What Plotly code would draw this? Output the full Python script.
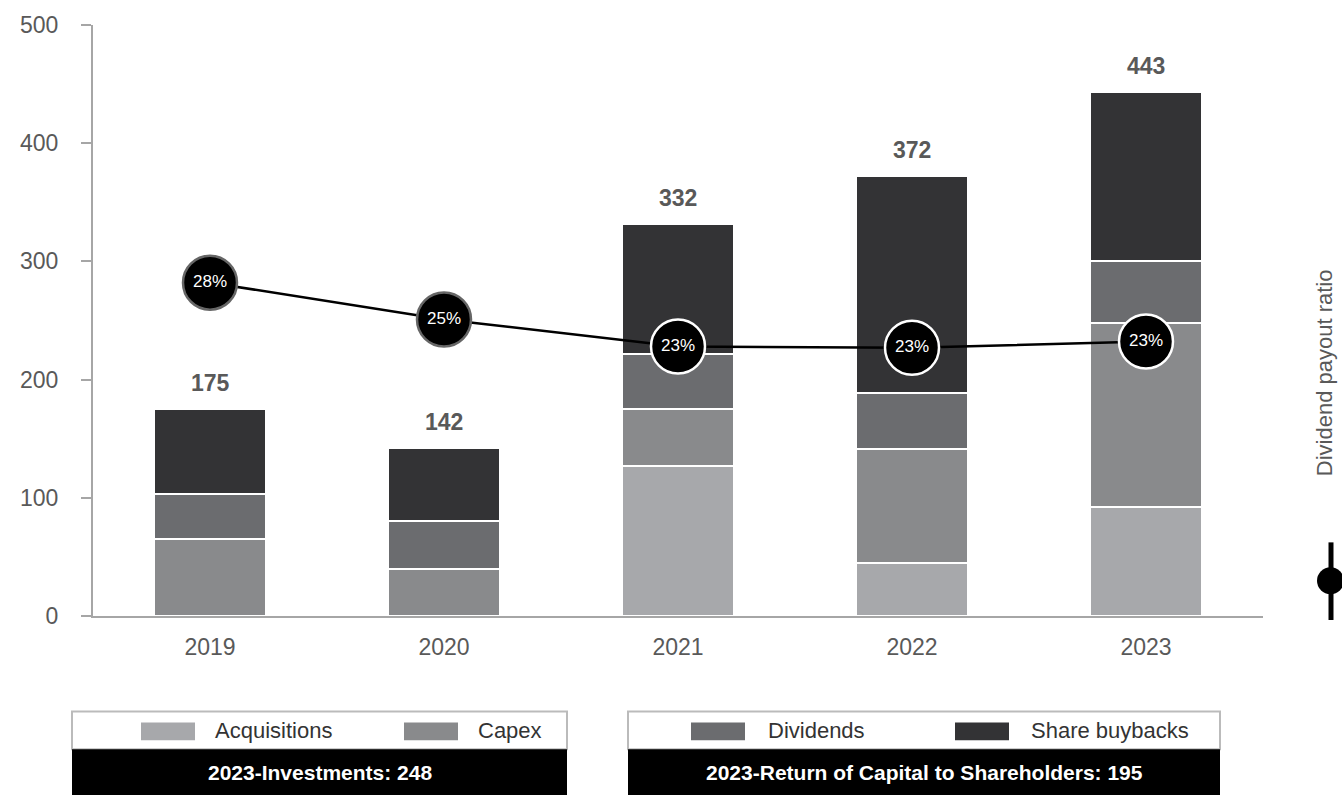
import plotly.graph_objects as go

years = ["2019", "2020", "2021", "2022", "2023"]
acquisitions = [0, 0, 127, 45, 92]
capex = [65, 40, 48, 96, 156]
dividends = [38, 40, 47, 48, 52]
buybacks = [72, 62, 110, 183, 143]
totals = [175, 142, 332, 372, 443]
payout = [28, 25, 22.8, 22.7, 23.2]
payout_labels = ["28%", "25%", "23%", "23%", "23%"]
y_ticks = [0, 100, 200, 300, 400, 500]

series = [
    ("Acquisitions", acquisitions, "#A7A8AB"),
    ("Capex", capex, "#898A8C"),
    ("Dividends", dividends, "#6B6C6F"),
    ("Share buybacks", buybacks, "#333335"),
]

xpos = list(range(len(years)))

W, H = 1342, 795
L, R, T, B = 93, 1263, 22, 616
FONT = "Arial, Liberation Sans, sans-serif"


def px(x):
    return (x - L) / (R - L)


def py(y):
    return (B - y) / (B - T)


fig = go.Figure()
for name, vals, col in series:
    fig.add_trace(go.Bar(
        x=xpos, y=vals, name=name, width=0.475,
        marker=dict(color=col, line=dict(color="white", width=2)),
        showlegend=False, hoverinfo="skip"))

fig.add_trace(go.Scatter(
    x=xpos, y=payout, yaxis="y2", mode="lines+markers+text",
    text=payout_labels, textposition="middle center",
    textfont=dict(color="white", size=17, family=FONT),
    line=dict(color="black", width=2.5),
    marker=dict(size=54, color="black",
                line=dict(color=["#666666", "#666666", "white", "white", "white"], width=2.5)),
    showlegend=False, hoverinfo="skip"))

annots = []
for xi, t in zip(xpos, totals):
    annots.append(dict(x=xi, y=t, xref="x", yref="y", text="<b>%d</b>" % t, showarrow=False, yanchor="bottom",
                       yshift=11, font=dict(size=23, color="#595959", family=FONT)))

shapes = []
boxes = [
    (72, 567, "2023-Investments: 248", [("Acquisitions", "#A7A8AB", 141, 213), ("Capex", "#898A8C", 404, 476)]),
    (628, 1220, "2023-Return of Capital to Shareholders: 195",
     [("Dividends", "#6B6C6F", 691, 766), ("Share buybacks", "#333335", 955, 1029)]),
]
for x0, x1, title, items in boxes:
    shapes.append(dict(type="rect", xref="paper", yref="paper", x0=px(x0), x1=px(x1), y0=py(750), y1=py(712),
                       fillcolor="white", line=dict(color="#BBBBBB", width=2), layer="above"))
    shapes.append(dict(type="rect", xref="paper", yref="paper", x0=px(x0), x1=px(x1), y0=py(800), y1=py(750),
                       fillcolor="black", line=dict(color="black", width=0), layer="above"))
    annots.append(dict(xref="paper", yref="paper", x=px((x0 + x1) / 2), y=py(773), text="<b>%s</b>" % title,
                       showarrow=False, xanchor="center", yanchor="middle",
                       font=dict(size=21, color="white", family=FONT)))
    for name, col, sx, tx in items:
        shapes.append(dict(type="rect", xref="paper", yref="paper", x0=px(sx), x1=px(sx + 54), y0=py(741), y1=py(723),
                           fillcolor=col, line=dict(width=0), layer="above"))
        annots.append(dict(xref="paper", yref="paper", x=px(tx), y=py(731), text=name, showarrow=False,
                           xanchor="left", yanchor="middle",
                           font=dict(size=22, color="#333333", family=FONT)))

annots.append(dict(xref="paper", yref="paper", x=px(1324), y=py(372), text="Dividend payout ratio", textangle=-90,
                   showarrow=False, xanchor="center", yanchor="middle",
                   font=dict(size=22, color="#595959", family=FONT)))
shapes.append(dict(type="line", xref="paper", yref="paper", x0=px(1331), x1=px(1331), y0=py(542), y1=py(620),
                   line=dict(color="black", width=5)))
shapes.append(dict(type="circle", xref="paper", yref="paper", x0=px(1317), x1=px(1344), y0=py(594), y1=py(567),
                   fillcolor="black", line=dict(color="black", width=0)))

fig.update_layout(
    width=W, height=H, barmode="stack",
    margin=dict(l=L, r=W - R, t=T, b=H - B),
    plot_bgcolor="white", paper_bgcolor="white",
    font=dict(family=FONT, color="#595959"),
    xaxis=dict(range=[-0.5, len(years) - 0.5], tickvals=xpos, ticktext=years,
               showline=True, linecolor="#A6A6A6", linewidth=2, ticks="", showgrid=False, zeroline=False,
               tickfont=dict(size=23, color="#595959"), ticklabelstandoff=9),
    yaxis=dict(range=[0, 500], tickvals=y_ticks, showline=True, linecolor="#A6A6A6", linewidth=2,
               ticks="outside", ticklen=10, tickcolor="#A6A6A6", tickwidth=2, showgrid=False, zeroline=False,
               tickfont=dict(size=23, color="#595959"), ticklabelstandoff=18),
    yaxis2=dict(overlaying="y", range=[0.83, 49], visible=False),
    shapes=shapes, annotations=annots,
)

fig.write_html("out.html")
